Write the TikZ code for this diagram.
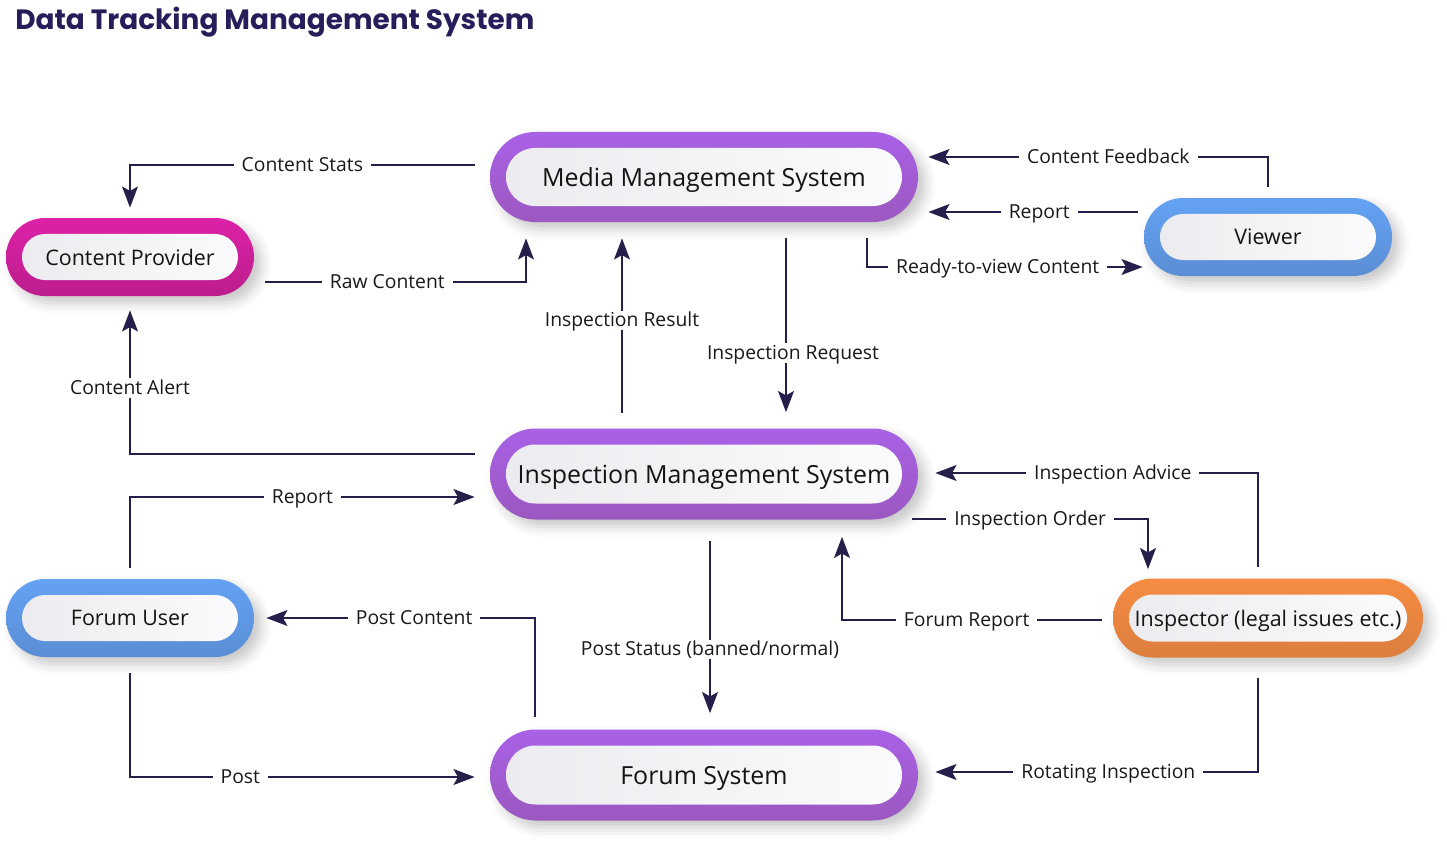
\documentclass[tikz,border=0pt]{standalone}
\usepackage{fontspec}
\setmainfont{Open Sans}
\newfontfamily\headfont{Poppins}
\usetikzlibrary{arrows.meta,positioning,shapes.misc,shadows.blur}

\definecolor{ink}{HTML}{241F4B}
\definecolor{heading}{HTML}{261E5A}
\definecolor{mauve1}{HTML}{A961E6}
\definecolor{mauve2}{HTML}{9B58C0}
\definecolor{pink1}{HTML}{DC22A8}
\definecolor{pink2}{HTML}{BC1D8C}
\definecolor{sky1}{HTML}{64A2F4}
\definecolor{sky2}{HTML}{5A8ED4}
\definecolor{amber1}{HTML}{F68C42}
\definecolor{amber2}{HTML}{DC7E3E}
\definecolor{coreL}{HTML}{ECECF0}
\definecolor{coreR}{HTML}{FBFBFD}

\begin{document}
\begin{tikzpicture}[x=0.02cm,y=-0.02cm]
			\tikzstyle{Ring}	= [rounded rectangle, inner sep=0pt, blur shadow={shadow xshift=4pt, shadow yshift=-4pt, shadow blur radius=6pt, shadow opacity=22}]
			\tikzstyle{Core}	= [rounded rectangle, inner sep=0pt, text depth=0pt, left color=coreL, right color=coreR, text=black!92]
			\tikzstyle{BigText}	= [font=\fontsize{14.2}{17}\selectfont]
			\tikzstyle{SmallText}	= [font=\fontsize{12.2}{15}\selectfont]
			\tikzstyle{Flow}	= [ink, line width=1.3pt, -{Stealth[length=12pt,width=9pt,inset=2.5pt]}]
			\tikzstyle{Tag}		= [fill=white, inner xsep=4.5pt, inner ysep=2pt, text height=0.72em, text depth=0pt, text=black!90, font=\fontsize{11}{13}\selectfont]
			
			\useasboundingbox (0,0) rectangle (1447,865);
			\node[anchor=west, inner sep=0pt, text=heading, font=\headfont\bfseries\fontsize{15.9}{19}\selectfont] (title) at (15,22) {Data Tracking Management System};
			
			\foreach \n/\x/\y/\w/\h/\c/\s/\t in {mms/704/177/428/90/mauve/BigText/Media Management System, ims/704/474/428/91/mauve/BigText/Inspection Management System, fs/704/775/428/91/mauve/BigText/Forum System, cp/130/257/248/78/pink/SmallText/Content Provider, viewer/1268/237/248/78/sky/SmallText/Viewer, fu/130/618/248/78/sky/SmallText/Forum User, insp/1268/618/310/79/amber/SmallText/Inspector (legal issues etc.)}
			{
				\node (\n) at (\x, \y) [Ring, minimum width=0.02cm*\w, minimum height=0.02cm*\h, top color=\c1, bottom color=\c2] {};
				\node at (\n) [Core, \s, minimum width=0.02cm*\w-0.64cm, minimum height=0.02cm*\h-0.64cm] {\t};
			}
			
			% media management system
			\draw [Flow] ([shift={(-15,-12)}]mms.west) -| node[Tag, pos=0.25] {Content Stats} ([shift={(0,-10)}]cp.north);
			\draw [Flow] ([shift={(11,25)}]cp.east) -| node[Tag, pos=0.234] {Raw Content} ([shift={(-178,16)}]mms.south);
			\draw [Flow] ([shift={(0,-11)}]viewer.north) |- node[Tag, pos=0.735] {Content Feedback} ([shift={(10,-20)}]mms.east);
			\draw [Flow] ([shift={(-6,-25)}]viewer.west) -- node[Tag, pos=0.47] {Report} ([shift={(10,35)}]mms.east);
			\draw [Flow] ([shift={(163,16)}]mms.south) |- node[Tag, pos=0.737] {Ready-to-view Content} ([shift={(-1,30)}]viewer.west);
			
			% inspection management system
			\draw [Flow] ([shift={(-82,-15)}]ims.north) -- node[Tag, pos=0.53] {Inspection Result} ([shift={(-82,16)}]mms.south);
			\draw [Flow] ([shift={(82,16)}]mms.south) -- node[Tag, pos=0.66, xshift=0.14cm] {Inspection Request} ([shift={(82,-16)}]ims.north);
			\draw [Flow] ([shift={(-15,-20)}]ims.west) -| node[Tag, pos=0.729] {Content Alert} ([shift={(0,14)}]cp.south);
			\draw [Flow] ([shift={(0,-11)}]fu.north) |- node[Tag, pos=0.75] {Report} ([shift={(-15,23)}]ims.west);
			\draw [Flow] ([shift={(-10,-11)}]insp.north) |- node[Tag, pos=0.725] {Inspection Advice} ([shift={(17,-1)}]ims.east);
			\draw [Flow] ([shift={(-6,45)}]ims.east) -| node[Tag, pos=0.25] {Inspection Order} ([shift={(-120,-9)}]insp.north);
			\draw [Flow] ([shift={(-11,2)}]insp.west) -| node[Tag, pos=0.26] {Forum Report} ([shift={(138,17)}]ims.south);
			
			% forum system
			\draw [Flow] ([shift={(6,21)}]ims.south) -- node[Tag, pos=0.63] {Post Status (banned/normal)} ([shift={(6,-16)}]fs.north);
			\draw [Flow] ([shift={(-169,-12)}]fs.north) |- node[Tag, pos=0.725] {Post Content} ([shift={(12,0)}]fu.east);
			\draw [Flow] ([shift={(0,16)}]fu.south) |- node[Tag, pos=0.66] {Post} ([shift={(-15,2)}]fs.west);
			\draw [Flow] ([shift={(-10,20)}]insp.south) |- node[Tag, pos=0.732] {Rotating Inspection} ([shift={(17,-3)}]fs.east);
\end{tikzpicture}
\end{document}
